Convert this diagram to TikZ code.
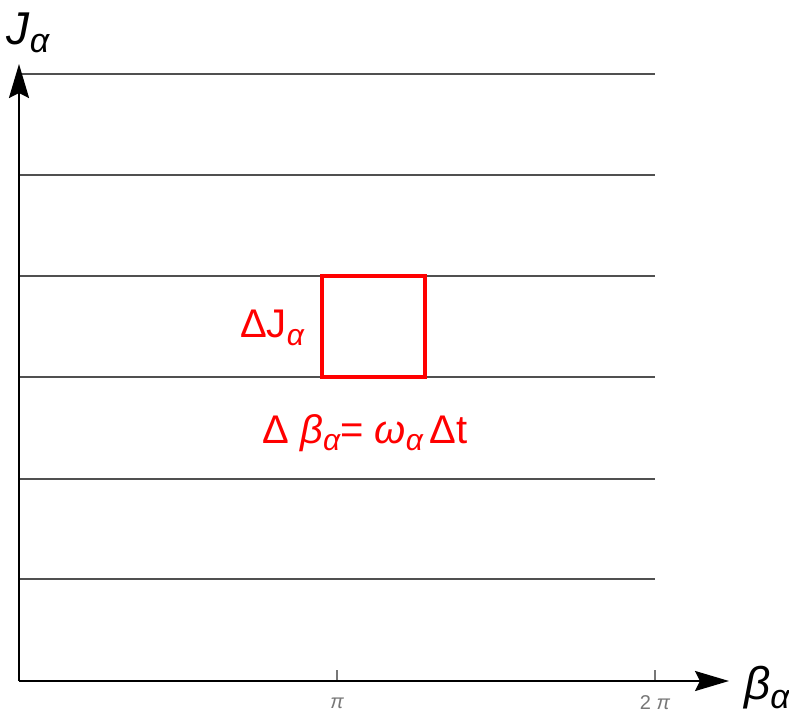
\documentclass[tikz,border=0pt]{standalone}
\usepackage{fontspec}
\setmainfont{Liberation Sans}
\usetikzlibrary{arrows.meta}
\definecolor{gridgray}{HTML}{505050}
\definecolor{tickgray}{HTML}{777777}
\definecolor{boxred}{HTML}{FF0000}
\tikzset{
  gridline/.style={draw=gridgray,line width=2.4pt},
  axisline/.style={draw=black,line width=2.4pt,-{Stealth[length=34pt,width=20pt,inset=5pt]}},
  ticklabel/.style={text=tickgray,font=\fontsize{20}{22}\selectfont,inner sep=0pt},
  axislabel/.style={font=\fontsize{46}{50}\selectfont,inner sep=0pt},
  redlabel/.style={text=boxred,font=\fontsize{40}{44}\selectfont,inner sep=0pt},
}
\begin{document}
\begin{tikzpicture}[x=1pt,y=-1pt]
\useasboundingbox (0,0) rectangle (789,717);
% grid lines
\foreach \yy/\nm in {74/a,175/b,276/c,377/d,479/e,579/f}{
  \coordinate (L\nm) at (19,\yy);
  \coordinate (R\nm) at (655,\yy);
  \draw[gridline] (L\nm) -- (R\nm);
}
% ticks
\coordinate (t1a) at (337,681); \coordinate (t1b) at (337,670);
\coordinate (t2a) at (655,681); \coordinate (t2b) at (655,670);
\draw[draw=tickgray,line width=1.4pt] (t1a) -- (t1b);
\draw[draw=tickgray,line width=1.4pt] (t2a) -- (t2b);
\node[ticklabel] (pi1) at (337,703) {\itshape π};
\node[ticklabel] (pi2) at (655,703) {2 \itshape π};
% axes
\coordinate (O) at (19,681);
\coordinate (Ytip) at (19,64);
\coordinate (Xtip) at (729,681);
\draw[axisline] (O) -- (Ytip);
\draw[axisline] (O) -- (Xtip);
\node[axislabel] (jlab) at (28,33) {\itshape J\raisebox{-0.35ex}{\fontsize{34}{36}\selectfont α}};
\node[axislabel] (blab) at (767,688) {\itshape β\raisebox{-0.35ex}{\fontsize{34}{36}\selectfont α}};
% red box
\node[draw=boxred,line width=3.5pt,minimum width=103pt,minimum height=101pt,inner sep=0pt] (box) at (373.5,326.5) {};
\node[redlabel] (dJ) at (272,328) {ΔJ\raisebox{-0.35ex}{\fontsize{30}{32}\selectfont\itshape α}};
\node[redlabel] (db) at (365,433) {Δ \itshape β\raisebox{-0.35ex}{\fontsize{30}{32}\selectfont α}\upshape= \itshape ω\raisebox{-0.35ex}{\fontsize{30}{32}\selectfont α}\upshape\,Δt};
\end{tikzpicture}
\end{document}
